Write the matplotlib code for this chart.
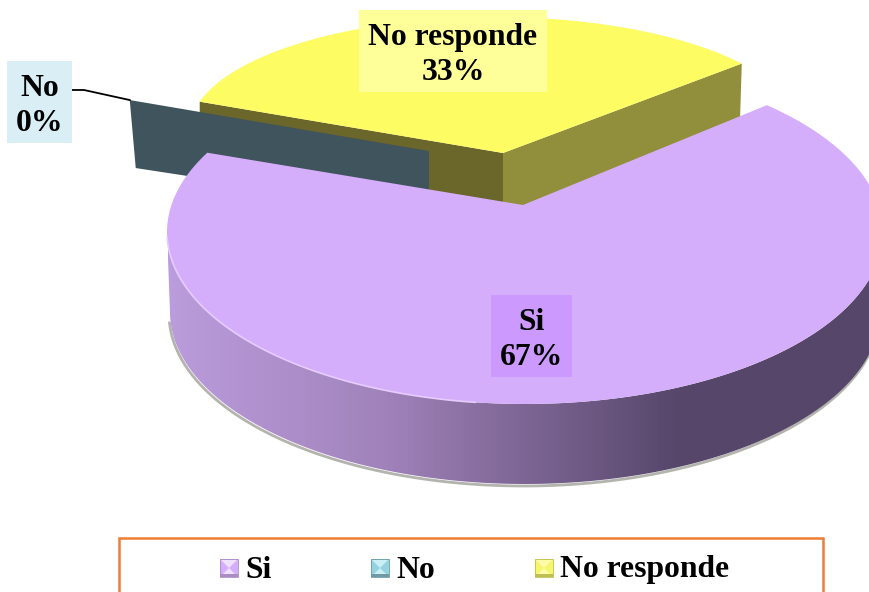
import numpy as np
import matplotlib
matplotlib.use("Agg")
import matplotlib.pyplot as plt
from matplotlib.patches import Polygon, Rectangle
from matplotlib.colors import LinearSegmentedColormap

plt.rcParams["font.family"] = ["Liberation Serif", "DejaVu Serif"]

# Data
labels = ["Si", "No", "No responde"]
percents = [67, 0, 33]
TXT = 22.8


def arc(cx, cy, rx, ry, t0, t1, n=200):
    t = np.radians(np.linspace(t0, t1, n))
    return np.column_stack([cx + rx * np.cos(t), cy - ry * np.sin(t)])


fig = plt.figure(figsize=(8.69, 5.92), dpi=100)
ax = fig.add_axes([0, 0, 1, 1])

# No responde slice (back): sweep comes from the share, 1.09 = perspective stretch
yes_sweep = percents[2] / 100 * 360 * 1.09
y_apex = np.array([503, 153])
y_arc = arc(495, 130, 305, 113, 36, 36 + yes_sweep)
y_left, y_right = y_arc[-1], y_arc[0]
drop = np.array([0, 65])
ax.add_patch(Polygon([y_left, y_apex, y_apex + drop, y_left + drop], fc="#6b6629", ec="none", zorder=2))
ax.add_patch(Polygon([y_apex, y_right, y_right + [-2, 65], y_apex + drop], fc="#918e3c", ec="none", zorder=2))
ax.add_patch(Polygon(np.vstack([y_apex, y_arc]), fc="#fdfc62", ec="none", zorder=3))

# No slice: zero share so only the cut wall shows
no_sweep = percents[1] / 100 * 360
no_rim = arc(432, 125, 309, 120, 168, 168 + no_sweep, 2)[0]
no_apex = np.array([429, 151])
ax.add_patch(Polygon([no_rim, no_apex, no_apex + [0, 62], no_rim + [6, 68]], fc="#3f545c", ec="none", zorder=4))
ax.plot([72, 84, no_rim[0]], [90, 90, no_rim[1]], color="black", lw=1.3, zorder=4)

# Si slice: side wall with gradient
top_front = arc(525, 232, 358, 172, 180, 360)
bot_front = arc(525, 312, 355, 172, 180, 360)
shadow = arc(525, 312, 355, 172, 183, 360) + [-1, 2]
ax.plot(shadow[:, 0], shadow[:, 1], color="#b4b4ae", lw=2, zorder=5)

side = Polygon(np.vstack([top_front, bot_front[::-1]]), fc="none", ec="none", zorder=6)
ax.add_patch(side)
cmap = LinearSegmentedColormap.from_list(
    "side", [(0, "#bb9cdc"), (0.3, "#a183bb"), (0.72, "#56466a"), (1, "#56466a")]
)
grad = np.linspace(0, 1, 400).reshape(1, -1)
im = ax.imshow(grad, extent=[168, 880, 490, 230], cmap=cmap, aspect="auto", zorder=6)
im.set_clip_path(side)

si_sweep = percents[0] / 100 * 360 * 1.057
si_apex = np.array([523, 205])
si_arc = arc(525, 232, 358, 172, 47.5, 47.5 - si_sweep)
ax.add_patch(Polygon(np.vstack([si_apex, si_arc]), fc="#d5aefb", ec="none", zorder=7))
rim = arc(525, 232, 358, 172, 182, 262)
ax.plot(rim[:, 0], rim[:, 1], color="#e6ccff", lw=1.2, zorder=8)

# Data labels
boxes = [(491, 295, 81, 82, "#cc99ff"), (7, 61, 65, 82, "#daeef5"), (359, 10, 188, 82, "#ffff99")]
for name, pct, (x, y, w, h, c) in zip(labels, percents, boxes):
    ax.add_patch(Rectangle((x, y), w, h, fc=c, ec="none", zorder=9))
    ax.text(x + w / 2, y + h / 2 + 4, f"{name}\n{pct}%", ha="center", va="center",
            fontsize=TXT, fontweight="bold", linespacing=1.28, color="black", zorder=10)

# Legend
ax.add_patch(Rectangle((119, 538), 704, 80, fc="white", ec="#ed7d31", lw=1.8, zorder=9))
swatches = [
    (220, "#d5aefb", "#efe0fd", "#a98cc6"),
    (371, "#93d3e0", "#c9eff5", "#6f9aa4"),
    (535, "#f5f56e", "#fbfba8", "#bfbf52"),
]
text_x = [245, 396, 560]
for name, (sx, mid, light, dark), tx in zip(labels, swatches, text_x):
    s = 18
    sy = 559
    c = (sx + s / 2, sy + s / 2)
    ax.add_patch(Rectangle((sx, sy), s, s, fc=mid, ec="none", zorder=10))
    ax.add_patch(Polygon([(sx + 1, sy + 1), (sx + s - 1, sy + 1), c], fc=light, ec="none", zorder=10))
    ax.add_patch(Polygon([(sx + 1, sy + s - 1), (sx + s - 1, sy + s - 1), c], fc=light, ec="none", zorder=10))
    ax.add_patch(Rectangle((sx, sy + s - 3), s, 3, fc=dark, ec="none", zorder=10))
    ax.add_patch(Rectangle((sx, sy), s, s, fc="none", ec=dark, lw=0.6, zorder=10))
    ax.text(tx, 570, name, ha="left", va="center", fontsize=TXT, fontweight="bold", zorder=10)

ax.set_xlim(0, 869)
ax.set_ylim(592, 0)
ax.axis("off")

fig.savefig("out.png", dpi=100)
